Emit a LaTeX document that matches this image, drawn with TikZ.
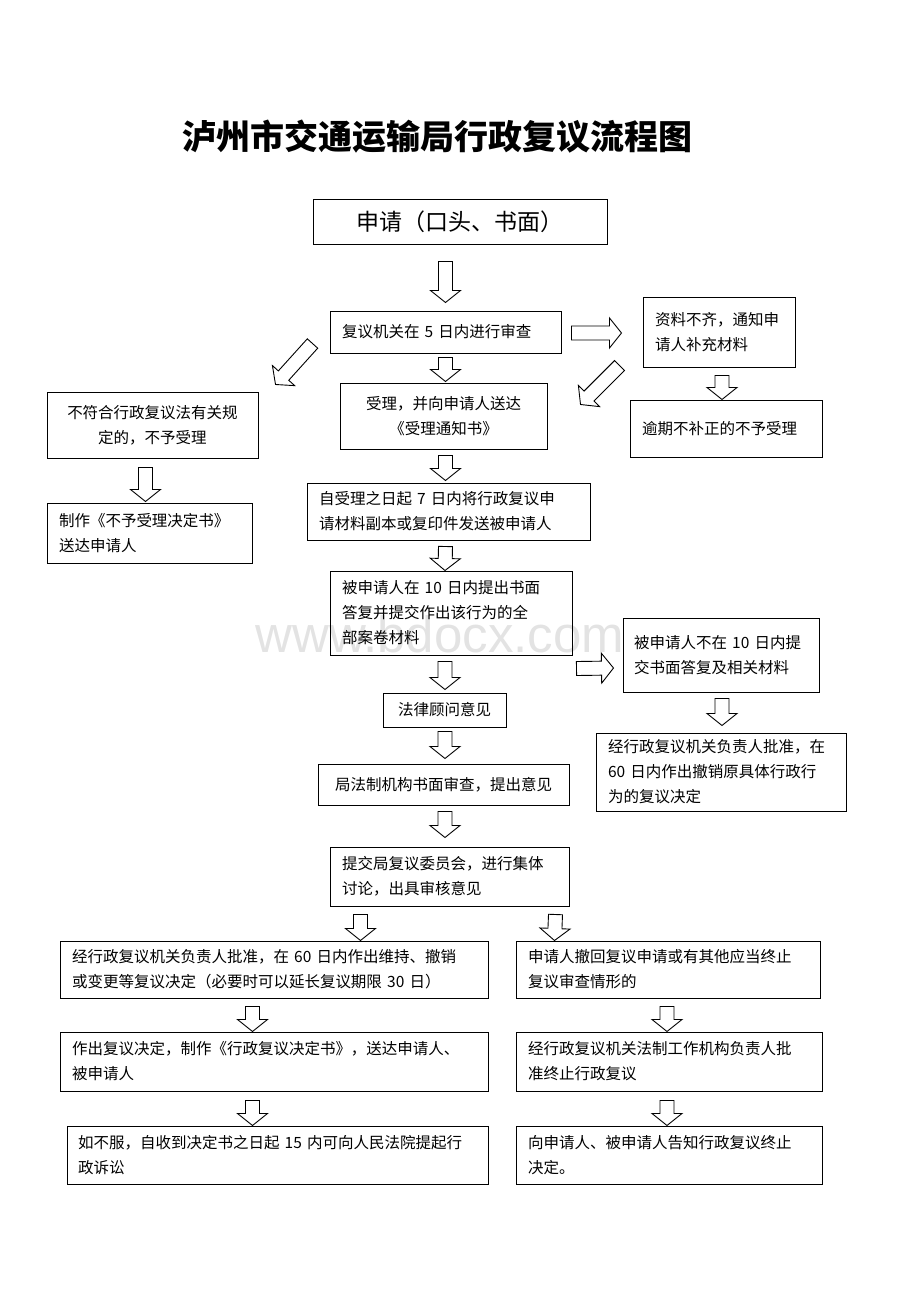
\documentclass[tikz,border=0pt]{standalone}
\usepackage{fontspec}
\setmainfont{Noto Sans CJK SC}
\newfontfamily\markfont{Liberation Sans}
\usetikzlibrary{calc}

\tikzset{
  box/.style={draw, line width=1pt, inner xsep=12pt, inner ysep=0pt, align=left,
    font=\fontsize{15.5}{25}\selectfont},
  arrowline/.style={draw, line width=0.9pt, fill=white},
  pics/hollowarrow/.style={code={%
    \path[arrowline] (0,-7) -- (#1-12,-7) -- (#1-12,-15) -- (#1,0)
      -- (#1-12,15) -- (#1-12,7) -- (0,7) -- cycle;}}
}

% hollow block arrow from one point to another
\newcommand{\flowarrow}[2]{%
  \path let \p1=(#1), \p2=(#2),
    \n1={veclen(\x2-\x1,\y2-\y1)}, \n2={atan2(\y2-\y1,\x2-\x1)} in
    pic[rotate=\n2] at (\p1) {hollowarrow=\n1};}

\begin{document}
\begin{tikzpicture}[x=1pt, y=-1pt]
\useasboundingbox (0,0) rectangle (920,1302);

% Watermark
\node[text=black!11, font=\markfont\fontsize{51}{51}\selectfont] (mark) at (440,634) {www.bdocx.com};

% Title
\node[font=\fontsize{34}{40}\selectfont\bfseries] (title) at (437,137) {泸州市交通运输局行政复议流程图};

% Application
\node[box, align=center, minimum width=294, minimum height=45, font=\fontsize{23}{28}\selectfont] (b1) at (460,221.5) {申请（口头、书面）};

% Review within 5 days and its three outcomes
\node[box, text width=207, minimum height=42] (b2) at (445.5,332) {复议机关在 5 日内进行审查};
\node[box, text width=128, minimum height=70] (b3) at (719,332) {资料不齐，通知申\\请人补充材料};
\node[box, text width=168, minimum height=57] (b4) at (726,428.5) {逾期不补正的不予受理};
\node[box, align=center, text width=187, minimum height=66] (b5) at (152.5,425) {不符合行政复议法有关规\\定的，不予受理};
\node[box, align=center, text width=183, minimum height=66] (b6) at (443.5,416) {受理，并向申请人送达\\《受理通知书》};
\node[box, text width=181, minimum height=60] (b7) at (149.5,533) {制作《不予受理决定书》\\送达申请人};

% Main line
\node[box, text width=259, minimum height=57] (b8) at (448.5,511.5) {自受理之日起 7 日内将行政复议申\\请材料副本或复印件发送被申请人};
\node[box, text width=218, minimum height=84] (b9) at (451,613) {被申请人在 10 日内提出书面\\答复并提交作出该行为的全\\部案卷材料};
\node[box, text width=174, inner xsep=11pt, minimum height=74] (b10) at (721,655) {被申请人不在 10 日内提\\交书面答复及相关材料};
\node[box, align=center, text width=99, minimum height=34] (b11) at (444.5,710) {法律顾问意见};
\node[box, text width=226, minimum height=78] (b12) at (721,772) {经行政复议机关负责人批准，在\\60 日内作出撤销原具体行政行\\为的复议决定};
\node[box, align=center, text width=227, minimum height=41] (b13) at (443.5,784.5) {局法制机构书面审查，提出意见};
\node[box, text width=215, minimum height=59] (b14) at (449.5,876.5) {提交局复议委员会，进行集体\\讨论，出具审核意见};

% Two branches
\node[box, text width=404, minimum height=57] (b15) at (274,969.5) {经行政复议机关负责人批准，在 60 日内作出维持、撤销\\或变更等复议决定（必要时可以延长复议期限 30 日）};
\node[box, text width=280, minimum height=57] (b16) at (668,969.5) {申请人撤回复议申请或有其他应当终止\\复议审查情形的};
\node[box, text width=404, minimum height=59] (b17) at (274,1061.5) {作出复议决定，制作《行政复议决定书》，送达申请人、\\被申请人};
\node[box, text width=282, minimum height=59] (b18) at (669,1061.5) {经行政复议机关法制工作机构负责人批\\准终止行政复议};
\node[box, text width=399, inner xsep=11pt, minimum height=58] (b19) at (277.5,1155) {如不服，自收到决定书之日起 15 内可向人民法院提起行\\政诉讼};
\node[box, text width=282, minimum height=58] (b20) at (669,1155) {向申请人、被申请人告知行政复议终止\\决定。};

% Arrows
\flowarrow{$(b1.south -| b2.north)+(0,17)$}{$(b2.north)+(0,-8)$}
\flowarrow{$(b2.east)+(10,1)$}{$(b3.west)+(-21,1)$}
\flowarrow{$(b2.south west)+(-17,-10)$}{$(b5.north east)+(17,-7)$}
\flowarrow{$(b2.south)+(0,4)$}{$(b6.north -| b2.south)+(0,-1)$}
\flowarrow{$(b3.south west)+(-23,-2)$}{$(b6.north east)+(33,22)$}
\flowarrow{$(b3.south)+(3,8)$}{$(b4.north)+(-4,0)$}
\flowarrow{$(b5.south)+(-7,9)$}{$(b7.north)+(-4,-1)$}
\flowarrow{$(b6.south)+(2,6)$}{$(b8.north)+(-3,-2)$}
\flowarrow{$(b8.south)+(-3,6)$}{$(b9.north)+(-6,0)$}
\flowarrow{$(b9.south east)+(4,13)$}{$(b10.west)+(-9,13)$}
\flowarrow{$(b9.south)+(-6,6)$}{$(b11.north)+(0.5,-3)$}
\flowarrow{$(b10.south)+(1,6)$}{$(b12.north)+(1,-7)$}
\flowarrow{$(b11.south)+(0.5,4)$}{$(b13.north)+(1.5,-5)$}
\flowarrow{$(b13.south)+(1.5,6)$}{$(b14.north)+(-4.5,-9)$}
\flowarrow{$(b14.south west)+(31,8)$}{$(b15.north west)+(301,0)$}
\flowarrow{$(b14.south east)+(-14,8)$}{$(b16.north west)+(39,0)$}
\flowarrow{$(b15.south west)+(193,8)$}{$(b17.north west)+(193,0)$}
\flowarrow{$(b16.south)+(-1,8)$}{$(b18.north)+(-2,0)$}
\flowarrow{$(b17.south west)+(193,9)$}{$(b19.north west)+(186,0)$}
\flowarrow{$(b18.south)+(-2,9)$}{$(b20.north)+(-2,0)$}

\end{tikzpicture}
\end{document}
